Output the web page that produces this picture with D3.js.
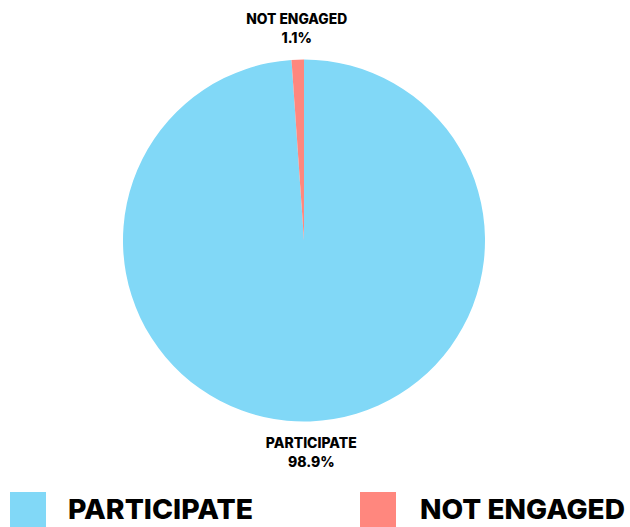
<!DOCTYPE html>
<html>
<head>
<meta charset="utf-8">
<script src="https://cdn.jsdelivr.net/npm/d3@7"></script>
<style>
  html, body { margin: 0; padding: 0; background: #ffffff; }
  svg { display: block; }
  text { font-family: "Inter", "DejaVu Sans", sans-serif; font-weight: 800; fill: #000; }
</style>
</head>
<body>
<svg id="chart" width="630" height="527"></svg>
<script>
// Engagement split
const categories = ["PARTICIPATE", "NOT ENGAGED"];
const values = [98.9, 1.1];
const colors = ["#81D8F7", "#FF877E"];

const width = 630, height = 527;
const cx = 304, cy = 240.5, radius = 181;

const svg = d3.select("#chart");

const data = categories.map((c, i) => ({ name: c, value: values[i], color: colors[i] }));

const pie = d3.pie().sort(null).value(d => d.value);
const arcs = pie(data);

const arc = d3.arc().innerRadius(0).outerRadius(radius);
const labelArc = d3.arc().innerRadius(212).outerRadius(212);

const g = svg.append("g").attr("transform", `translate(${cx},${cy})`);

g.selectAll("path.slice")
  .data(arcs)
  .join("path")
  .attr("class", "slice")
  .attr("d", arc)
  .attr("fill", d => d.data.color);

// Slice labels: name on the first line, percentage on the second
const labels = g.selectAll("g.label")
  .data(arcs)
  .join("g")
  .attr("class", "label")
  .attr("transform", d => {
    const [x, y] = labelArc.centroid(d);
    return `translate(${x},${y})`;
  });

labels.append("text")
  .attr("text-anchor", "middle")
  .attr("y", -4.3)
  .style("font-size", "14px")
  .attr("textLength", d => d.data.name === "PARTICIPATE" ? 91 : 101)
  .attr("lengthAdjust", "spacingAndGlyphs")
  .text(d => d.data.name);

labels.append("text")
  .attr("text-anchor", "middle")
  .attr("y", 14.7)
  .style("font-size", "14px")
  .text(d => d3.format(".1f")(d.data.value) + "%");

// Legend
const legendX = [10, 360];
const legend = svg.selectAll("g.legend")
  .data(data)
  .join("g")
  .attr("class", "legend")
  .attr("transform", (d, i) => `translate(${legendX[i]},492)`);

legend.append("rect")
  .attr("width", 36)
  .attr("height", 36)
  .attr("fill", d => d.color);

legend.append("text")
  .attr("x", (d, i) => i === 0 ? 58 : 60)
  .attr("y", 27)
  .style("font-size", "27.5px")
  .attr("textLength", (d, i) => i === 0 ? 185 : 205)
  .attr("lengthAdjust", "spacingAndGlyphs")
  .text(d => d.name);
</script>
</body>
</html>
